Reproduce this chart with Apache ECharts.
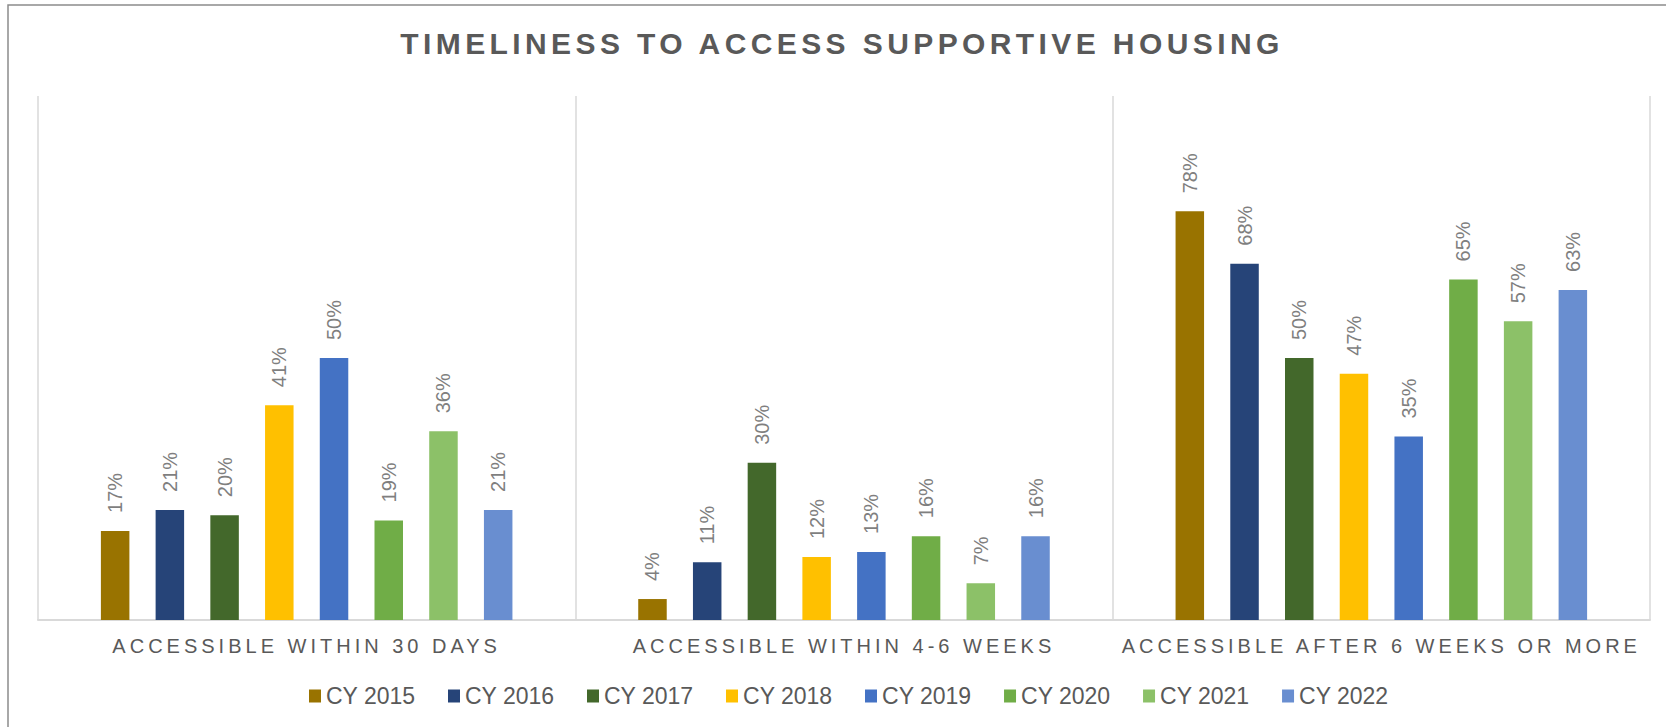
<!DOCTYPE html>
<html>
<head>
<meta charset="utf-8">
<title>Timeliness to Access Supportive Housing</title>
<script src="https://cdn.jsdelivr.net/npm/echarts@6/dist/echarts.min.js"></script>
<style>
  html, body { margin: 0; padding: 0; background: #ffffff; }
  #chart { width: 1666px; height: 727px; }
</style>
</head>
<body>
<div id="chart"></div>
<script>
// Wait-time buckets on the category axis
const categories = [
  'ACCESSIBLE WITHIN 30 DAYS',
  'ACCESSIBLE WITHIN 4-6 WEEKS',
  'ACCESSIBLE AFTER 6 WEEKS OR MORE'
];

// Calendar years shown as series
const years = ['CY 2015', 'CY 2016', 'CY 2017', 'CY 2018', 'CY 2019', 'CY 2020', 'CY 2021', 'CY 2022'];

// Share of placements (%) per bucket, one array per year
const cy2015 = [17, 4, 78];
const cy2016 = [21, 11, 68];
const cy2017 = [20, 30, 50];
const cy2018 = [41, 12, 47];
const cy2019 = [50, 13, 35];
const cy2020 = [19, 16, 65];
const cy2021 = [36, 7, 57];
const cy2022 = [21, 16, 63];

const yearValues = [cy2015, cy2016, cy2017, cy2018, cy2019, cy2020, cy2021, cy2022];
const yearColors = ['#997300', '#264478', '#43682B', '#FFC000', '#4472C4', '#70AD47', '#8CC168', '#698ED0'];

const titleText = 'TIMELINESS TO ACCESS SUPPORTIVE HOUSING';
const FONT = '"Liberation Sans", Arial, sans-serif';

const chart = echarts.init(document.getElementById('chart'), null, { renderer: 'svg' });

const series = years.map((name, i) => ({
  name: name,
  type: 'bar',
  data: yearValues[i],
  barWidth: 28.5,
  barGap: '92%',
  itemStyle: { color: yearColors[i] },
  label: {
    show: true,
    position: 'top',
    distance: 18,
    rotate: 90,
    align: 'left',
    verticalAlign: 'middle',
    formatter: '{c}%',
    color: '#7f7f7f',
    fontFamily: FONT,
    fontSize: 20
  }
}));

chart.setOption({
  animation: false,
  backgroundColor: '#ffffff',
  title: {
    text: titleText,
    left: 837,
    top: 20,
    textAlign: 'center',
    textStyle: {
      color: '#595959',
      fontFamily: FONT,
      fontWeight: 'bold',
      fontSize: 30,
      lineHeight: 36
    }
  },
  graphic: [{
    type: 'rect',
    silent: true,
    z: -10,
    shape: { x: 8, y: 5, width: 1700, height: 800 },
    style: { fill: 'none', stroke: '#8c8c8c', lineWidth: 1.5 }
  }],
  legend: {
    data: years,
    left: 304,
    top: 678,
    icon: 'rect',
    itemWidth: 12,
    itemHeight: 13,
    itemGap: 32.5,
    textStyle: {
      color: '#595959',
      fontFamily: FONT,
      fontSize: 23,
      lineHeight: 26
    }
  },
  grid: { left: 38, right: 16, top: 96, bottom: 107, containLabel: false },
  xAxis: {
    type: 'category',
    data: categories,
    boundaryGap: true,
    axisLine: { show: true, lineStyle: { color: '#d9d9d9', width: 2 } },
    axisTick: { show: false },
    splitLine: { show: true, lineStyle: { color: '#d9d9d9', width: 1.5 } },
    axisLabel: {
      color: '#595959',
      fontFamily: FONT,
      fontSize: 20,
      lineHeight: 24,
      margin: 14,
      interval: 0
    }
  },
  yAxis: {
    type: 'value',
    min: 0,
    max: 100,
    show: false,
    splitLine: { show: false }
  },
  series: series
});

// Spaced-out capitals for the title and bucket names
function applyLetterSpacing() {
  const svg = document.querySelector('#chart svg');
  if (!svg) return;
  svg.querySelectorAll('text').forEach(t => {
    const s = t.textContent;
    if (s === titleText) t.setAttribute('letter-spacing', '4.4');
    else if (categories.indexOf(s) >= 0) t.setAttribute('letter-spacing', '4');
  });
}
applyLetterSpacing();
chart.on('finished', applyLetterSpacing);
</script>
</body>
</html>
